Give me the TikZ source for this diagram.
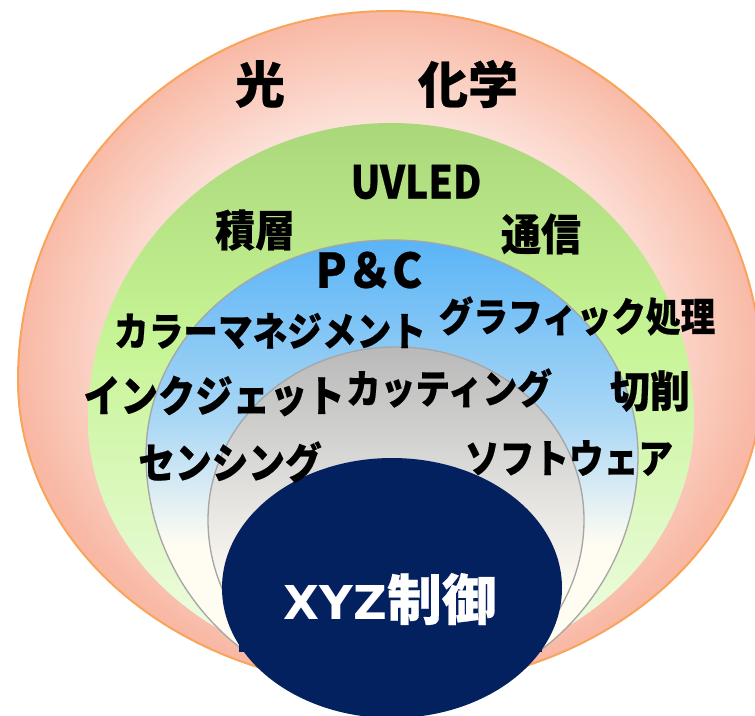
\documentclass[tikz,border=0pt]{standalone}
\usepackage{fontspec}
\newfontfamily\jp{Noto Sans CJK JP}[BoldFeatures={FakeBold=0.5}]
\newfontfamily\dvs{DejaVu Sans}
\definecolor{orangeline}{RGB}{248,164,90}
\definecolor{pinkL}{RGB}{253,229,222}
\definecolor{pinkD}{RGB}{248,184,164}
\definecolor{greenT}{RGB}{169,215,122}
\definecolor{greenM}{RGB}{198,244,148}
\definecolor{greenB}{RGB}{242,253,234}
\definecolor{blueT}{RGB}{90,180,246}
\definecolor{blueM}{RGB}{172,216,245}
\definecolor{blueB}{RGB}{255,252,242}
\definecolor{greyT}{RGB}{185,185,185}
\definecolor{greyM}{RGB}{214,214,212}
\definecolor{greyN}{RGB}{236,234,229}
\definecolor{greyB}{RGB}{255,252,242}
\definecolor{ringline}{RGB}{166,166,166}
\definecolor{navy}{RGB}{3,33,94}
\pgfdeclareradialshading{pinkring}{\pgfpoint{0bp}{0bp}}{color(0bp)=(pinkL); color(16bp)=(pinkL); color(25bp)=(pinkD); color(50bp)=(pinkD)}
\pgfdeclareverticalshading{greenv}{100bp}{color(0bp)=(greenB); color(25bp)=(greenB); color(56bp)=(greenM); color(75bp)=(greenT); color(100bp)=(greenT)}
\pgfdeclareverticalshading{bluev}{100bp}{color(0bp)=(blueB); color(25bp)=(blueB); color(42bp)=(blueB); color(55bp)=(blueM); color(75bp)=(blueT); color(100bp)=(blueT)}
\pgfdeclareverticalshading{greyv}{100bp}{color(0bp)=(greyB); color(25bp)=(greyB); color(40bp)=(greyB); color(50bp)=(greyN); color(60bp)=(greyM); color(75bp)=(greyT); color(100bp)=(greyT)}
\tikzset{
  lbl/.style={inner sep=0pt, anchor=center, text=black},
  kana/.style={lbl, font=\jp\bfseries\fontsize{26}{26}\selectfont, yscale=1.15, transform shape},
  kanji/.style={lbl, font=\jp\bfseries\fontsize{30}{30}\selectfont, yscale=1.08, transform shape},
  big/.style={lbl, font=\jp\bfseries\fontsize{37.5}{37.5}\selectfont},
  latin/.style={lbl, font=\jp\bfseries\fontsize{34}{34}\selectfont},
}
\begin{document}
\begin{tikzpicture}[x=0.75pt,y=-0.75pt]
\useasboundingbox (0,0) rectangle (755,715);
% outer pink ring
\path[shading=pinkring, draw=orangeline, line width=1.5pt]
  (18,380) arc[start angle=180, end angle=0, x radius=279pt, y radius=276.75pt]
  arc[start angle=0, end angle=-180, x radius=279pt, y radius=230.25pt] -- cycle;
% green ring
\path[shading=greenv]
  (88,420) arc[start angle=180, end angle=0, x radius=227.25pt, y radius=222.75pt]
  arc[start angle=0, end angle=-180, x radius=227.25pt, y radius=190.5pt] -- cycle;
% blue ring
\path[shading=bluev, draw=ringline, line width=1pt]
  (146,455) arc[start angle=180, end angle=0, x radius=184.5pt, y radius=161.25pt]
  arc[start angle=0, end angle=-180, x radius=184.5pt, y radius=183.75pt] -- cycle;
% grey ring
\path[shading=greyv, draw=ringline, line width=1pt]
  (208,520) arc[start angle=180, end angle=0, x radius=141pt, y radius=129.75pt]
  arc[start angle=0, end angle=-180, x radius=141pt, y radius=135pt] -- cycle;
% navy core
\fill[navy] (392,588) ellipse[x radius=127.5pt, y radius=97.5pt];
\fill[navy] (239,600) rectangle (542,652);
% labels
\node[big] (hikari) at (260,84) {光};
\node[big] (kagaku) at (468,84) {化学};
\node[latin, xscale=0.86, transform shape] (uvled) at (416,182) {UVLED};
\node[kanji] (sekiso) at (255,230) {積層};
\node[kanji] (tsushin) at (541,234) {通信};
\node[latin, yscale=1.05, transform shape] (pc) at (369,270) {P＆C};
\node[kana] (color) at (270,331) {カラーマネジメント};
\node[kana] (graphic) at (577,316) {グラフィック処理};
\node[kana, font=\jp\bfseries\fontsize{28}{28}\selectfont] (inkjet) at (214,396) {インクジェット};
\node[kana] (cutting) at (449,388) {カッティング};
\node[kanji] (sessaku) at (650,391) {切削};
\node[kana, font=\jp\bfseries\fontsize{27.5}{27.5}\selectfont] (sensing) at (230,462) {センシング};
\node[kana] (software) at (569,458) {ソフトウェア};
\node[lbl, text=white] (xyz) at (390,599) {{\dvs\bfseries\fontsize{35}{35}\selectfont XYZ}{\jp\bfseries\fontsize{41}{41}\selectfont 制御}};
\end{tikzpicture}
\end{document}
